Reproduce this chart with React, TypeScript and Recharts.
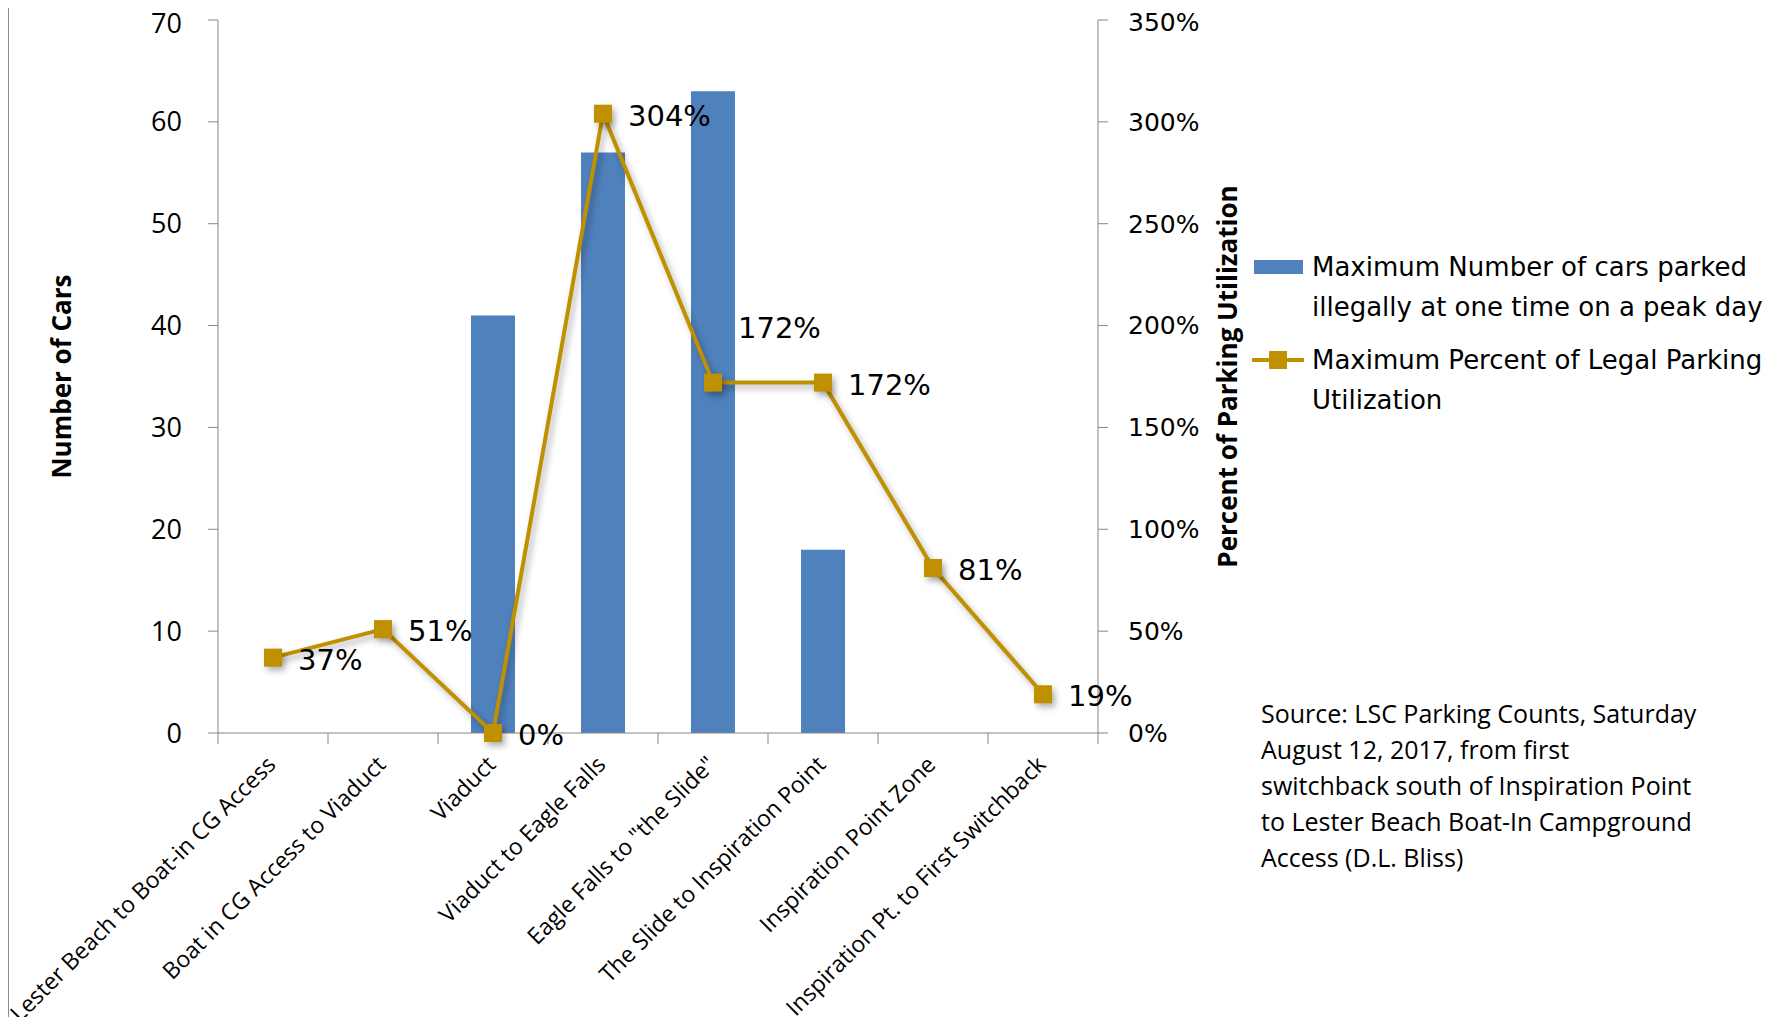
import React from "react";
import { Bar, ComposedChart, LabelList, Line, XAxis, YAxis } from "recharts";

const categories = [
  "Lester Beach to Boat-in CG Access",
  "Boat in CG Access to Viaduct",
  "Viaduct",
  "Viaduct to Eagle Falls",
  'Eagle Falls to "the Slide"',
  "The Slide to Inspiration Point",
  "Inspiration Point Zone",
  "Inspiration Pt. to First Switchback",
];
const carsParked = [0, 0, 41, 57, 63, 18, 0, 0];
const utilizationPct = [37, 51, 0, 304, 172, 172, 81, 19];
const carTicks = [0, 10, 20, 30, 40, 50, 60, 70];
const pctTicks = [0, 50, 100, 150, 200, 250, 300, 350];

const barSeriesName = "Maximum Number of cars parked illegally at one time on a peak day";
const lineSeriesName = "Maximum Percent of Legal Parking Utilization";
const sourceNote = [
  "Source: LSC Parking Counts, Saturday",
  "August 12, 2017, from first",
  "switchback south of Inspiration Point",
  "to Lester Beach Boat-In Campground",
  "Access (D.L. Bliss)",
];

const data = categories.map((name, i) => ({
  name,
  cars: carsParked[i],
  pct: utilizationPct[i],
}));

const WIDTH = 1767;
const HEIGHT = 1017;
const LEFT_AXIS_W = 210;
const RIGHT_AXIS_W = 150;
const MARGIN = { top: 12, right: 527, bottom: 0, left: 0 };
const PLOT_H = 713;
const X_AXIS_H = HEIGHT - MARGIN.top - PLOT_H;
const PLOT_W = WIDTH - MARGIN.left - MARGIN.right - LEFT_AXIS_W - RIGHT_AXIS_W;
const BAND = PLOT_W / categories.length;

const BLUE = "#4F81BD";
const GOLD = "#BF9000";
const AXIS = "#868686";
const INK = "#000";

function CategoryTick(props: any) {
  const { x, y, payload, index } = props;
  const half = BAND / 2;
  const tx = x + 4;
  const ty = y + 33;
  return (
    <g>
      <line x1={x - half} x2={x - half} y1={y} y2={y + 11} stroke={AXIS} />
      {index === categories.length - 1 && (
        <line x1={x + half} x2={x + half} y1={y} y2={y + 11} stroke={AXIS} />
      )}
      <text
        x={tx}
        y={ty}
        textAnchor="end"
        transform={`rotate(-45 ${tx} ${ty})`}
        fontFamily="Open Sans"
        fontSize={23}
        fill={INK}
      >
        {payload.value}
      </text>
    </g>
  );
}

function PctLabel(props: any) {
  const vb = props.viewBox || {};
  const x = props.x ?? vb.x;
  const y = props.y ?? vb.y;
  const next = utilizationPct[props.index + 1];
  // a flat segment to the right would run through the label, so lift it
  const lift = next !== undefined && Math.abs(next - props.value) < 5 ? -55 : 2;
  return (
    <text
      x={x + 25}
      y={y + lift}
      dominantBaseline="central"
      fontFamily="DejaVu Sans"
      fontSize={29}
      fill={INK}
    >
      {`${props.value}%`}
    </text>
  );
}

const SquareDot = (p: any) => (
  <rect
    key={`dot-${p.index}`}
    className="pct-dot"
    x={p.cx - 9}
    y={p.cy - 9}
    width={18}
    height={18}
    fill={GOLD}
  />
);

function LegendBox() {
  const text = { fontFamily: "DejaVu Sans", fontSize: 26, lineHeight: "40px", color: INK, width: 480 };
  return (
    <div style={{ position: "absolute", left: 1244, top: 239 }}>
      <div style={{ display: "flex" }}>
        <svg width={60} height={40}>
          <rect x={2} y={13} width={49} height={14} fill={BLUE} />
        </svg>
        <div style={text}>{barSeriesName}</div>
      </div>
      <div style={{ display: "flex", marginTop: 13 }}>
        <svg width={60} height={40}>
          <line x1={0} x2={52} y1={20} y2={20} stroke={GOLD} strokeWidth={4} />
          <rect x={17} y={11} width={18} height={18} fill={GOLD} />
        </svg>
        <div style={text}>{lineSeriesName}</div>
      </div>
    </div>
  );
}

export default function App() {
  return (
    <div style={{ position: "relative", width: WIDTH, height: HEIGHT, marginBottom: -8 }}>
      <style>{`.recharts-line-curve, .pct-dot { filter: drop-shadow(3px 4px 3px rgba(0,0,0,0.3)); }`}</style>
      <div style={{ position: "absolute", left: 0, top: 0, width: 1, height: HEIGHT, background: "#8c8c8c" }} />
      <ComposedChart width={WIDTH} height={HEIGHT} data={data} margin={MARGIN} barCategoryGap="30%">
        <XAxis
          dataKey="name"
          height={X_AXIS_H}
          interval={0}
          tick={<CategoryTick />}
          tickLine={false}
          tickSize={0}
          tickMargin={0}
          axisLine={{ stroke: AXIS }}
        />
        <YAxis
          yAxisId="cars"
          width={LEFT_AXIS_W}
          domain={[0, 70]}
          ticks={carTicks}
          tickSize={10}
          tickMargin={26}
          tickLine={{ stroke: AXIS }}
          axisLine={{ stroke: AXIS }}
          tick={{ fontFamily: "Open Sans", fontSize: 27, fill: INK }}
          label={{
            value: "Number of Cars",
            angle: -90,
            position: "center",
            dx: -51,
            fontFamily: "Open Sans",
            fontWeight: 700,
            fontSize: 26,
            fill: INK,
          }}
        />
        <YAxis
          yAxisId="pct"
          orientation="right"
          width={RIGHT_AXIS_W}
          domain={[0, 350]}
          ticks={pctTicks}
          tickFormatter={(v) => `${v}%`}
          tickSize={10}
          tickMargin={20}
          tickLine={{ stroke: AXIS }}
          axisLine={{ stroke: AXIS }}
          tick={{ fontFamily: "DejaVu Sans", fontSize: 25, fill: INK }}
          label={{
            value: "Percent of Parking Utilization",
            angle: -90,
            position: "center",
            dx: 55,
            fontFamily: "Open Sans",
            fontWeight: 700,
            fontSize: 26,
            fill: INK,
          }}
        />
        <Bar yAxisId="cars" dataKey="cars" name={barSeriesName} fill={BLUE} isAnimationActive={false} />
        <Line
          yAxisId="pct"
          dataKey="pct"
          name={lineSeriesName}
          stroke={GOLD}
          strokeWidth={4}
          dot={SquareDot}
          activeDot={false}
          isAnimationActive={false}
        >
          <LabelList dataKey="pct" content={<PctLabel />} />
        </Line>
      </ComposedChart>
      <LegendBox />
      <div
        style={{
          position: "absolute",
          left: 1253,
          top: 687,
          fontFamily: "Open Sans",
          fontSize: 25,
          lineHeight: "36px",
          color: INK,
        }}
      >
        {sourceNote.map((line) => (
          <div key={line}>{line}</div>
        ))}
      </div>
    </div>
  );
}
